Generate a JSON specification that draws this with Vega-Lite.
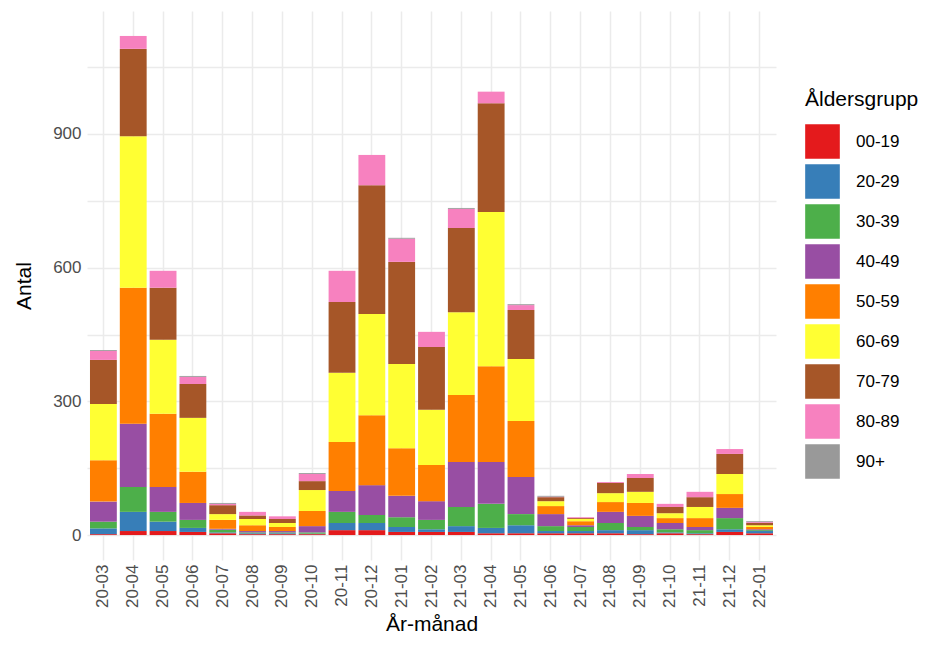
{
  "$schema": "https://vega.github.io/schema/vega-lite/v6.json",
  "width": 689,
  "height": 549,
  "autosize": "none",
  "padding": {"left": 87, "top": 11, "right": 160, "bottom": 92},
  "background": "white",
  "config": {
    "view": {"stroke": null},
    "font": "Liberation Sans",
    "axis": {"grid": true, "gridColor": "#ebebeb", "gridWidth": 1.5, "domain": false, "ticks": false, "labelColor": "#4d4d4d", "labelFontSize": 17, "titleFontSize": 21, "titleFontWeight": "normal", "titleColor": "black"}
  },
  "data": {
    "values": [
      {"m": "20-03", "00-19": 2, "20-29": 13, "30-39": 15, "40-49": 45, "50-59": 93, "60-69": 126, "70-79": 99, "80-89": 20, "90+": 2},
      {"m": "20-04", "00-19": 9, "20-29": 43, "30-39": 56, "40-49": 142, "50-59": 305, "60-69": 340, "70-79": 196, "80-89": 29, "90+": 0},
      {"m": "20-05", "00-19": 9, "20-29": 21, "30-39": 22, "40-49": 56, "50-59": 164, "60-69": 166, "70-79": 117, "80-89": 38, "90+": 0},
      {"m": "20-06", "00-19": 7, "20-29": 9, "30-39": 18, "40-49": 38, "50-59": 70, "60-69": 121, "70-79": 76, "80-89": 16, "90+": 2},
      {"m": "20-07", "00-19": 4, "20-29": 2, "30-39": 6, "40-49": 2, "50-59": 20, "60-69": 13, "70-79": 20, "80-89": 3, "90+": 2},
      {"m": "20-08", "00-19": 2, "20-29": 2, "30-39": 2, "40-49": 3, "50-59": 13, "60-69": 14, "70-79": 8, "80-89": 8, "90+": 0},
      {"m": "20-09", "00-19": 2, "20-29": 2, "30-39": 2, "40-49": 3, "50-59": 9, "60-69": 9, "70-79": 9, "80-89": 6, "90+": 0},
      {"m": "20-10", "00-19": 2, "20-29": 1, "30-39": 3, "40-49": 14, "50-59": 34, "60-69": 47, "70-79": 20, "80-89": 16, "90+": 2},
      {"m": "20-11", "00-19": 11, "20-29": 16, "30-39": 25, "40-49": 47, "50-59": 110, "60-69": 155, "70-79": 159, "80-89": 70, "90+": 0},
      {"m": "20-12", "00-19": 11, "20-29": 16, "30-39": 18, "40-49": 67, "50-59": 157, "60-69": 227, "70-79": 289, "80-89": 68, "90+": 0},
      {"m": "21-01", "00-19": 7, "20-29": 11, "30-39": 22, "40-49": 48, "50-59": 107, "60-69": 189, "70-79": 229, "80-89": 52, "90+": 2},
      {"m": "21-02", "00-19": 7, "20-29": 6, "30-39": 21, "40-49": 42, "50-59": 81, "60-69": 124, "70-79": 141, "80-89": 34, "90+": 0},
      {"m": "21-03", "00-19": 7, "20-29": 13, "30-39": 43, "40-49": 101, "50-59": 150, "60-69": 186, "70-79": 189, "80-89": 43, "90+": 2},
      {"m": "21-04", "00-19": 4, "20-29": 12, "30-39": 54, "40-49": 94, "50-59": 215, "60-69": 346, "70-79": 244, "80-89": 26, "90+": 0},
      {"m": "21-05", "00-19": 4, "20-29": 18, "30-39": 25, "40-49": 83, "50-59": 126, "60-69": 139, "70-79": 110, "80-89": 11, "90+": 2},
      {"m": "21-06", "00-19": 4, "20-29": 5, "30-39": 11, "40-49": 27, "50-59": 18, "60-69": 11, "70-79": 9, "80-89": 1, "90+": 2},
      {"m": "21-07", "00-19": 4, "20-29": 5, "30-39": 9, "40-49": 4, "50-59": 9, "60-69": 5, "70-79": 2, "80-89": 2, "90+": 0},
      {"m": "21-08", "00-19": 4, "20-29": 7, "30-39": 16, "40-49": 25, "50-59": 22, "60-69": 20, "70-79": 23, "80-89": 2, "90+": 0},
      {"m": "21-09", "00-19": 2, "20-29": 9, "30-39": 7, "40-49": 25, "50-59": 29, "60-69": 25, "70-79": 31, "80-89": 9, "90+": 0},
      {"m": "21-10", "00-19": 4, "20-29": 2, "30-39": 7, "40-49": 14, "50-59": 11, "60-69": 11, "70-79": 14, "80-89": 7, "90+": 0},
      {"m": "21-11", "00-19": 2, "20-29": 2, "30-39": 7, "40-49": 7, "50-59": 20, "60-69": 25, "70-79": 22, "80-89": 12, "90+": 0},
      {"m": "21-12", "00-19": 7, "20-29": 6, "30-39": 25, "40-49": 23, "50-59": 31, "60-69": 45, "70-79": 45, "80-89": 11, "90+": 0},
      {"m": "22-01", "00-19": 4, "20-29": 5, "30-39": 2, "40-49": 2, "50-59": 5, "60-69": 4, "70-79": 5, "80-89": 2, "90+": 2}
    ]
  },
  "transform": [
    {"fold": ["00-19", "20-29", "30-39", "40-49", "50-59", "60-69", "70-79", "80-89", "90+"], "as": ["grupp", "antal"]}
  ],
  "mark": {"type": "bar"},
  "encoding": {
    "x": {
      "field": "m", "type": "ordinal", "title": "År-månad",
      "scale": {"paddingInner": 0.1, "paddingOuter": 0.1},
      "axis": {"labelAngle": 270, "bandPosition": 0.5, "labelPadding": 4, "titlePadding": 6}
    },
    "y": {
      "field": "antal", "type": "quantitative", "aggregate": "sum", "title": "Antal",
      "stack": "zero",
      "scale": {"domain": [-56, 1176], "nice": false},
      "axis": {"values": [0, 150, 300, 450, 600, 750, 900, 1050], "labelExpr": "datum.value % 300 == 0 ? datum.label : ''", "titlePadding": 18, "labelPadding": 6}
    },
    "color": {
      "field": "grupp", "type": "nominal", "title": "Åldersgrupp",
      "scale": {"domain": ["00-19", "20-29", "30-39", "40-49", "50-59", "60-69", "70-79", "80-89", "90+"],
        "range": ["#E41A1C", "#377EB8", "#4DAF4A", "#984EA3", "#FF7F00", "#FFFF33", "#A65628", "#F781BF", "#999999"]},
      "legend": {"orient": "none", "legendX": 718, "legendY": 78, "symbolType": "square", "symbolSize": 1200, "symbolStrokeWidth": 0, "symbolOpacity": 1, "titleFontSize": 21, "titleFontWeight": "normal", "titleColor": "black", "labelFontSize": 17, "labelColor": "black", "rowPadding": 5, "labelOffset": 16, "titlePadding": 14}
    },
    "order": {"field": "grupp", "sort": "ascending"}
  }
}
